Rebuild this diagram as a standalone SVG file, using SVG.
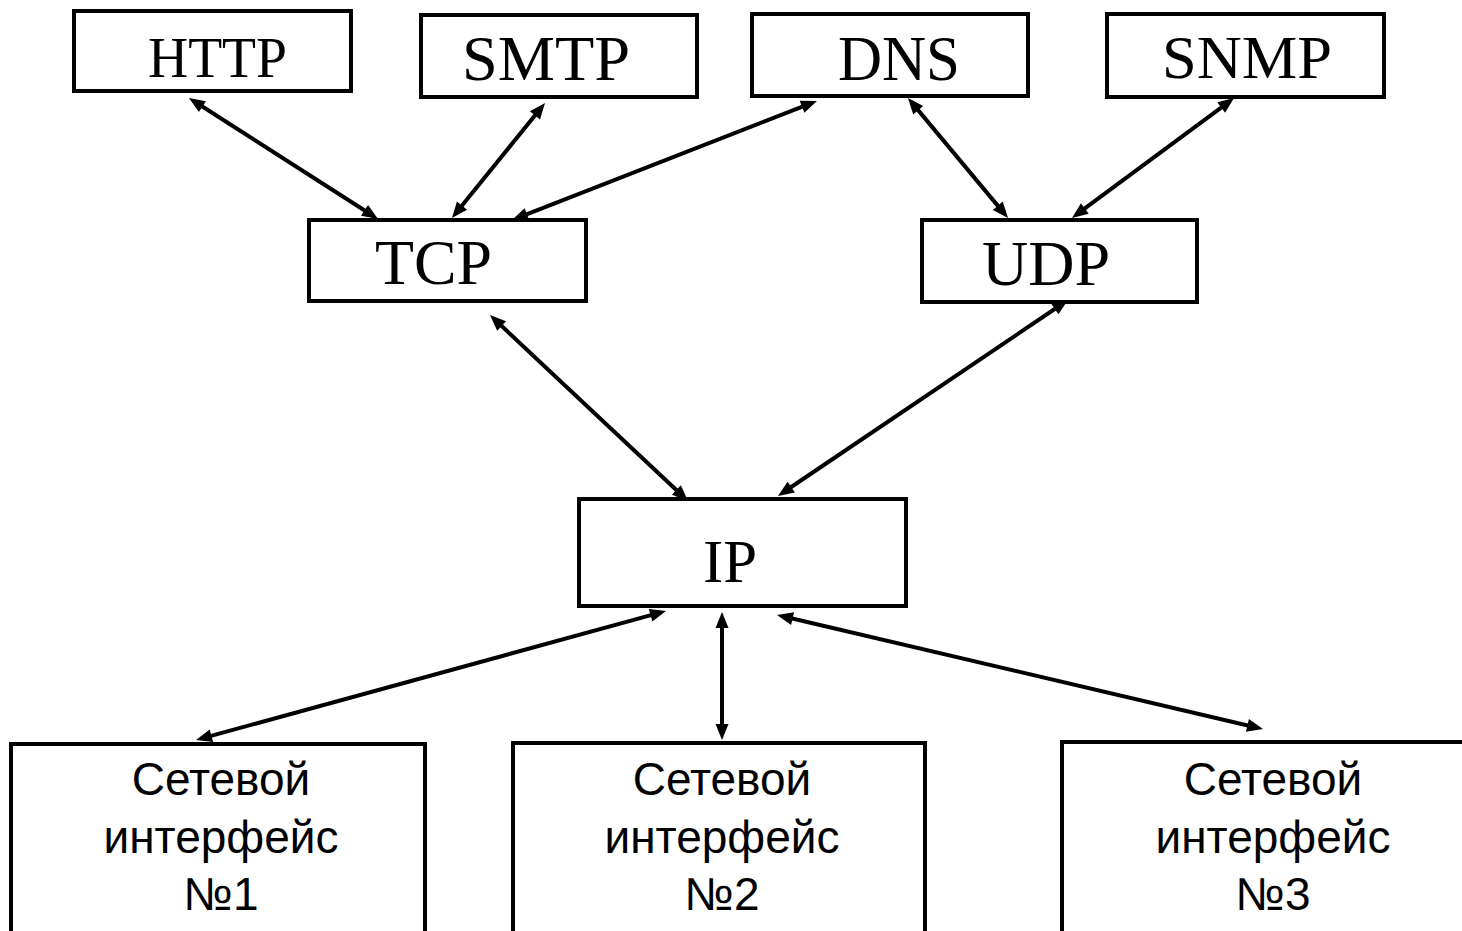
<svg xmlns="http://www.w3.org/2000/svg" width="1462" height="931" viewBox="0 0 1462 931">
<style>
.box{fill:#fff;stroke:#000;stroke-width:4}
.t{font-family:"Liberation Serif","Times New Roman",serif;fill:#000;text-anchor:middle}
.s{font-family:"Liberation Sans",Arial,sans-serif;font-size:46px;fill:#000;text-anchor:middle}
.c{stroke:#000;stroke-width:4;fill:none;marker-start:url(#ah);marker-end:url(#ah)}
</style>
<defs>
<marker id="ah" markerUnits="userSpaceOnUse" markerWidth="18" markerHeight="16" refX="8" refY="6.5" orient="auto-start-reverse" overflow="visible">
<path d="M0,0 L16,6.5 L0,13 z" fill="#000"/>
</marker>
</defs>
<rect width="1462" height="931" fill="#fff"/>
<g id="connectors">
<line class="c" x1="195.7" y1="102.3" x2="371.3" y2="214.7"/>
<line class="c" x1="540.0" y1="109.2" x2="457.0" y2="211.8"/>
<line class="c" x1="809.5" y1="103.9" x2="519.5" y2="217.1"/>
<line class="c" x1="913.1" y1="104.1" x2="1002.9" y2="211.9"/>
<line class="c" x1="1227.6" y1="102.8" x2="1078.4" y2="213.2"/>
<line class="c" x1="495.8" y1="320.5" x2="682.2" y2="495.5"/>
<line class="c" x1="1061.4" y1="304.5" x2="784.6" y2="491.5"/>
<line class="c" x1="658.3" y1="613.1" x2="203.7" y2="737.9"/>
<line class="c" x1="722" y1="620" x2="722" y2="732"/>
<line class="c" x1="784.8" y1="616.8" x2="1255.2" y2="727.2"/>
</g>
<g id="http"><rect class="box" x="74" y="11" width="277" height="80"/><text class="t" x="217.5" y="77" font-size="56" textLength="139" lengthAdjust="spacingAndGlyphs">HTTP</text></g>
<g id="smtp"><rect class="box" x="421" y="15" width="276" height="82"/><text class="t" x="546" y="80" font-size="64" textLength="168" lengthAdjust="spacingAndGlyphs">SMTP</text></g>
<g id="dns"><rect class="box" x="752" y="14" width="276" height="82"/><text class="t" x="899" y="80" font-size="64" textLength="122" lengthAdjust="spacingAndGlyphs">DNS</text></g>
<g id="snmp"><rect class="box" x="1107" y="14" width="277" height="83"/><text class="t" x="1247" y="78" font-size="62" textLength="170" lengthAdjust="spacingAndGlyphs">SNMP</text></g>
<g id="tcp"><rect class="box" x="309" y="220" width="277" height="81"/><text class="t" x="433.5" y="284" font-size="64" textLength="117" lengthAdjust="spacingAndGlyphs">TCP</text></g>
<g id="udp"><rect class="box" x="922" y="220" width="275" height="82"/><text class="t" x="1046" y="285" font-size="64" textLength="128" lengthAdjust="spacingAndGlyphs">UDP</text></g>
<g id="ip"><rect class="box" x="579" y="499" width="327" height="107"/><text class="t" x="730" y="582" font-size="62" textLength="54" lengthAdjust="spacingAndGlyphs">IP</text></g>
<g id="if1"><rect class="box" x="11" y="744" width="414" height="300"/><text class="s" x="221" y="795">Сетевой</text><text class="s" x="221" y="853">интерфейс</text><text class="s" x="221" y="910">№1</text></g>
<g id="if2"><rect class="box" x="513" y="743" width="412" height="300"/><text class="s" x="722" y="795">Сетевой</text><text class="s" x="722" y="853">интерфейс</text><text class="s" x="722" y="910">№2</text></g>
<g id="if3"><rect class="box" x="1062" y="742" width="500" height="300"/><text class="s" x="1273" y="795">Сетевой</text><text class="s" x="1273" y="853">интерфейс</text><text class="s" x="1273" y="910">№3</text></g>
</svg>
